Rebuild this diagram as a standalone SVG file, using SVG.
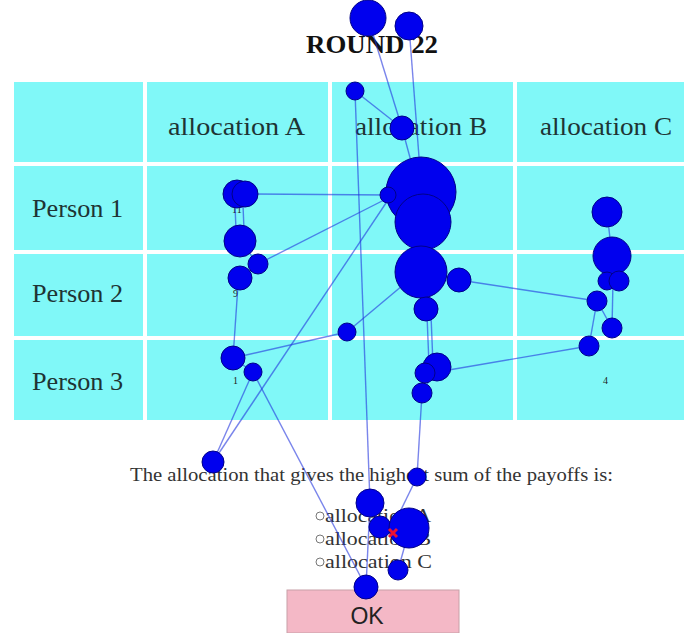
<svg xmlns="http://www.w3.org/2000/svg" width="684" height="633" viewBox="0 0 684 633">
<style>
.cell{fill:#80f8f8}
.hd{font-family:"Liberation Serif","Times New Roman",serif;font-size:25px;fill:#1e3434}
.sm{font-family:"Liberation Serif",serif;font-size:10px;fill:#222}
.q{font-family:"Liberation Serif",serif;font-size:19px;fill:#333}
.fx{fill:#0000ee;stroke:#000088;stroke-width:1}
.ln{stroke:#2233dd;stroke-width:1.4;stroke-opacity:0.6;fill:none}
.rb{fill:#fff;stroke:#777;stroke-width:1}
</style>
<rect width="684" height="633" fill="#ffffff"/>
<g id="table">
<rect class="cell" x="14" y="82" width="129" height="80"/>
<rect class="cell" x="147" y="82" width="181" height="80"/>
<rect class="cell" x="332" y="82" width="181" height="80"/>
<rect class="cell" x="517" y="82" width="167" height="80"/>
<rect class="cell" x="14" y="166" width="129" height="84"/>
<rect class="cell" x="147" y="166" width="181" height="84"/>
<rect class="cell" x="332" y="166" width="181" height="84"/>
<rect class="cell" x="517" y="166" width="167" height="84"/>
<rect class="cell" x="14" y="254" width="129" height="82"/>
<rect class="cell" x="147" y="254" width="181" height="82"/>
<rect class="cell" x="332" y="254" width="181" height="82"/>
<rect class="cell" x="517" y="254" width="167" height="82"/>
<rect class="cell" x="14" y="340" width="129" height="80"/>
<rect class="cell" x="147" y="340" width="181" height="80"/>
<rect class="cell" x="332" y="340" width="181" height="80"/>
<rect class="cell" x="517" y="340" width="167" height="80"/>
<text class="hd" x="168" y="135" textLength="137" lengthAdjust="spacingAndGlyphs">allocation A</text>
<text class="hd" x="355" y="135" textLength="132" lengthAdjust="spacingAndGlyphs">allocation B</text>
<text class="hd" x="540" y="135" textLength="132" lengthAdjust="spacingAndGlyphs">allocation C</text>
<text class="hd" x="32" y="217" textLength="91" lengthAdjust="spacingAndGlyphs">Person 1</text>
<text class="hd" x="32" y="302" textLength="91" lengthAdjust="spacingAndGlyphs">Person 2</text>
<text class="hd" x="32" y="390" textLength="91" lengthAdjust="spacingAndGlyphs">Person 3</text>
<text class="sm" x="232" y="213">11</text>
<text class="sm" x="233" y="297">9</text>
<text class="sm" x="233" y="384">1</text>
<text class="sm" x="603" y="384">4</text>
</g>
<text x="306" y="53" font-family="Liberation Serif,serif" font-weight="bold" font-size="26" fill="#111" textLength="132" lengthAdjust="spacingAndGlyphs">ROUND 22</text>
<text class="q" x="130" y="481" textLength="483" lengthAdjust="spacingAndGlyphs">The allocation that gives the highest sum of the payoffs is:</text>
<g id="options">
<circle class="rb" cx="320" cy="516" r="4"/>
<text class="q" x="325" y="522" textLength="106" lengthAdjust="spacingAndGlyphs">allocation A</text>
<circle class="rb" cx="320" cy="539" r="4"/>
<text class="q" x="325" y="545" textLength="106" lengthAdjust="spacingAndGlyphs">allocation B</text>
<circle class="rb" cx="320" cy="562" r="4"/>
<text class="q" x="325" y="568" textLength="107" lengthAdjust="spacingAndGlyphs">allocation C</text>
</g>
<g id="ok">
<rect x="287" y="590" width="172" height="43" fill="#f4b8c6" stroke="#c8a0a8" stroke-width="1"/>
<text x="367" y="624" text-anchor="middle" font-family="Liberation Sans,Arial,sans-serif" font-size="23" fill="#222">OK</text>
</g>
<g id="connectors">
<line class="ln" x1="368" y1="18" x2="402" y2="128"/>
<line class="ln" x1="409" y1="26" x2="420" y2="170"/>
<line class="ln" x1="355" y1="91" x2="402" y2="128"/>
<line class="ln" x1="355" y1="91" x2="370" y2="503"/>
<line class="ln" x1="402" y1="128" x2="412" y2="165"/>
<line class="ln" x1="388" y1="195" x2="247" y2="194"/>
<line class="ln" x1="388" y1="198" x2="258" y2="264"/>
<line class="ln" x1="388" y1="200" x2="213" y2="462"/>
<line class="ln" x1="235" y1="205" x2="236" y2="230"/>
<line class="ln" x1="243" y1="205" x2="244" y2="230"/>
<line class="ln" x1="240" y1="241" x2="258" y2="264"/>
<line class="ln" x1="238" y1="285" x2="233" y2="358"/>
<line class="ln" x1="233" y1="358" x2="347" y2="332"/>
<line class="ln" x1="347" y1="332" x2="421" y2="270"/>
<line class="ln" x1="233" y1="358" x2="253" y2="372"/>
<line class="ln" x1="253" y1="372" x2="213" y2="462"/>
<line class="ln" x1="253" y1="372" x2="366" y2="587"/>
<line class="ln" x1="421" y1="270" x2="426" y2="309"/>
<line class="ln" x1="459" y1="280" x2="597" y2="301"/>
<line class="ln" x1="607" y1="212" x2="612" y2="256"/>
<line class="ln" x1="613" y1="281" x2="612" y2="328"/>
<line class="ln" x1="597" y1="301" x2="589" y2="346"/>
<line class="ln" x1="597" y1="301" x2="612" y2="328"/>
<line class="ln" x1="589" y1="346" x2="437" y2="372"/>
<line class="ln" x1="427" y1="315" x2="429" y2="365"/>
<line class="ln" x1="431" y1="315" x2="433" y2="365"/>
<line class="ln" x1="422" y1="393" x2="437" y2="367"/>
<line class="ln" x1="422" y1="393" x2="417" y2="477"/>
<line class="ln" x1="417" y1="477" x2="396" y2="520"/>
<line class="ln" x1="370" y1="503" x2="366" y2="587"/>
<line class="ln" x1="405" y1="545" x2="398" y2="570"/>
</g>
<g id="fixations">
<g id="n1"><circle class="fx" cx="368" cy="18" r="18"/></g>
<g id="n2"><circle class="fx" cx="409" cy="26" r="14"/></g>
<g id="n3"><circle class="fx" cx="355" cy="91" r="9"/></g>
<g id="n4"><circle class="fx" cx="402" cy="128" r="12"/></g>
<g id="n5"><circle class="fx" cx="421" cy="192" r="35"/></g>
<g id="n6"><circle class="fx" cx="423" cy="222" r="28"/></g>
<g id="n7"><circle class="fx" cx="388" cy="195" r="8"/></g>
<g id="n8"><circle class="fx" cx="421" cy="272" r="26"/></g>
<g id="n9"><circle class="fx" cx="459" cy="280" r="12"/></g>
<g id="n10"><circle class="fx" cx="426" cy="309" r="12"/></g>
<g id="n11"><circle class="fx" cx="237" cy="194" r="14"/></g>
<g id="n12"><circle class="fx" cx="245" cy="194" r="13"/></g>
<g id="n13"><circle class="fx" cx="240" cy="241" r="16"/></g>
<g id="n14"><circle class="fx" cx="258" cy="264" r="10"/></g>
<g id="n15"><circle class="fx" cx="240" cy="278" r="12"/></g>
<g id="n16"><circle class="fx" cx="607" cy="212" r="15"/></g>
<g id="n17"><circle class="fx" cx="612" cy="256" r="19"/></g>
<g id="n18"><circle class="fx" cx="607" cy="281" r="9"/></g>
<g id="n19"><circle class="fx" cx="619" cy="281" r="10"/></g>
<g id="n20"><circle class="fx" cx="597" cy="301" r="10"/></g>
<g id="n21"><circle class="fx" cx="612" cy="328" r="10"/></g>
<g id="n22"><circle class="fx" cx="589" cy="346" r="10"/></g>
<g id="n23"><circle class="fx" cx="233" cy="358" r="12"/></g>
<g id="n24"><circle class="fx" cx="253" cy="372" r="9"/></g>
<g id="n25"><circle class="fx" cx="347" cy="332" r="9"/></g>
<g id="n26"><circle class="fx" cx="437" cy="367" r="14"/></g>
<g id="n27"><circle class="fx" cx="425" cy="373" r="10"/></g>
<g id="n28"><circle class="fx" cx="422" cy="393" r="10"/></g>
<g id="n29"><circle class="fx" cx="213" cy="462" r="11"/></g>
<g id="n30"><circle class="fx" cx="417" cy="477" r="9"/></g>
<g id="n31"><circle class="fx" cx="370" cy="503" r="14"/></g>
<g id="n32"><circle class="fx" cx="380" cy="527" r="11"/></g>
<g id="n33"><circle class="fx" cx="409" cy="528" r="20"/></g>
<g id="n34"><circle class="fx" cx="398" cy="570" r="10"/></g>
<g id="n35"><circle class="fx" cx="366" cy="587" r="12"/></g>
</g>
<g id="click"><path d="M389 529 L397 537 M397 529 L389 537" stroke="#ee1133" stroke-width="3"/></g>
</svg>
